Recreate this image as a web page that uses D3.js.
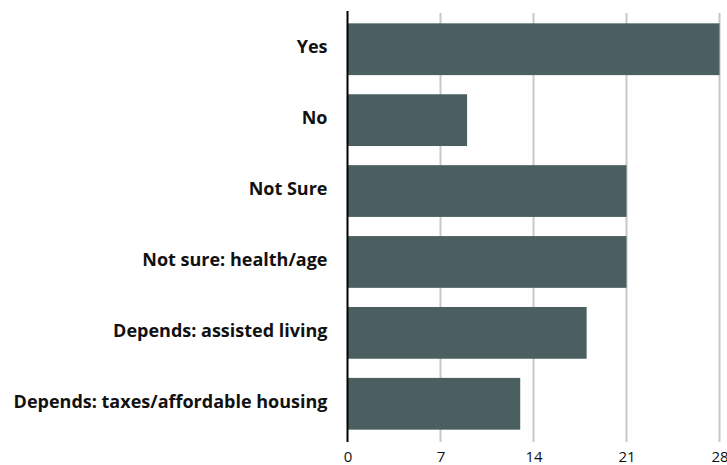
<!DOCTYPE html>
<html><head><meta charset="utf-8">
<script src="https://cdn.jsdelivr.net/npm/d3@7"></script>
<style>body{margin:0;background:#fff;}svg{display:block;}</style>
</head><body>
<svg id="c" width="727" height="465"></svg>
<script>
const categories = ["Yes","No","Not Sure","Not sure: health/age","Depends: assisted living","Depends: taxes/affordable housing"];
const values = [28, 9, 21, 21, 18, 13];
const tickValues = [0, 7, 14, 21, 28];

const svg = d3.select("#c");
const x = d3.scaleLinear().domain([0, 28]).range([347.5, 719.5]);
const y = d3.scaleBand().domain(categories).range([12, 441]).paddingInner(0.27).paddingOuter(0.16);

// gridlines
svg.append("g").selectAll("line").data(tickValues.filter(d => d !== 0)).join("line")
  .attr("x1", d => x(d)).attr("x2", d => x(d))
  .attr("y1", 13).attr("y2", 442)
  .attr("stroke", "#c8c8c8").attr("stroke-width", 2);

// bars
svg.append("g").selectAll("rect").data(values).join("rect")
  .attr("x", x(0))
  .attr("y", (d, i) => y(categories[i]))
  .attr("width", d => x(d) - x(0))
  .attr("height", y.bandwidth())
  .attr("fill", "#4b5f60");

// zero axis line
svg.append("line").attr("x1", x(0)).attr("x2", x(0)).attr("y1", 11).attr("y2", 442)
  .attr("stroke", "#000").attr("stroke-width", 2);

// x axis tick labels
const xAxis = d3.axisBottom(x).tickValues(tickValues).tickSize(0).tickPadding(0);
const gx = svg.append("g").attr("transform", "translate(0,462)").call(xAxis);
gx.select(".domain").remove();
gx.selectAll("text").attr("font-family", "'Open Sans', sans-serif").attr("font-size", 15)
  .attr("fill", "#111").attr("dy", "0").attr("y", 0);

// y labels
const yAxis = d3.axisLeft(y).tickSize(0).tickPadding(0);
const gy = svg.append("g").attr("transform", `translate(${x(0) - 20},0)`).call(yAxis);
gy.select(".domain").remove();
gy.selectAll("text").attr("font-family", "'Open Sans', sans-serif").attr("font-weight", "bold")
  .attr("font-size", 18).attr("fill", "#111").attr("dy", "0.22em");
</script>
</body></html>
